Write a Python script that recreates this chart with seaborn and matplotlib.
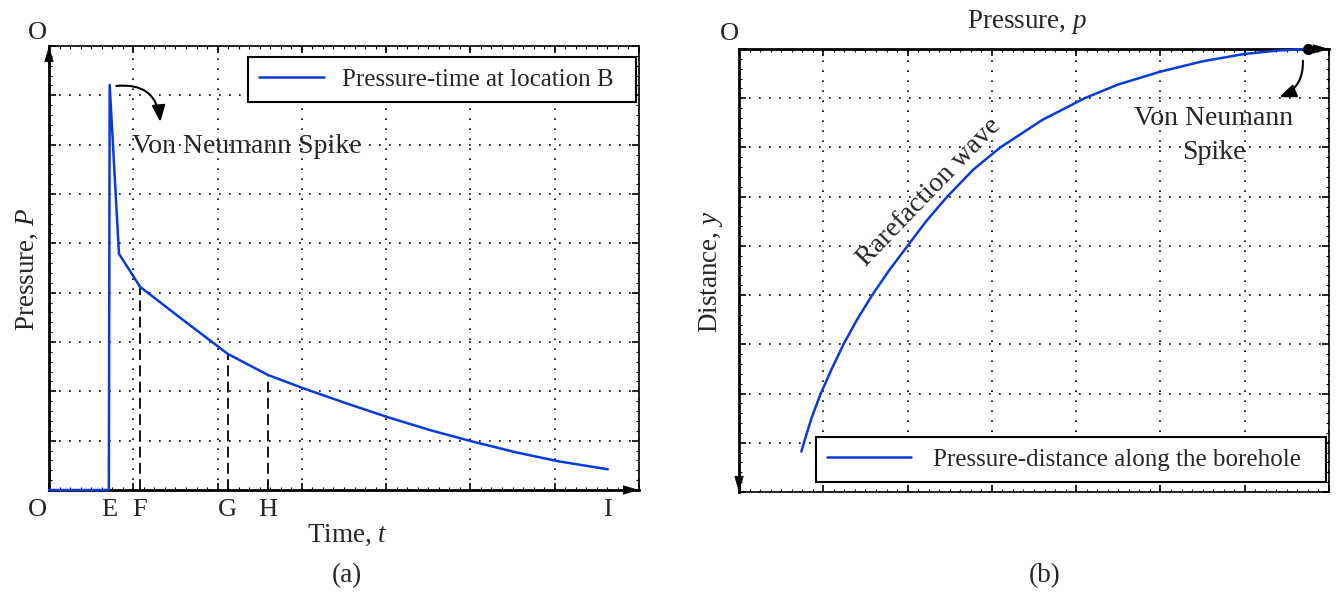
import numpy as np
import pandas as pd
import matplotlib
matplotlib.use("Agg")
import matplotlib.pyplot as plt
import seaborn as sns
from matplotlib.ticker import MultipleLocator

# ---------------- data ----------------
# panel (a): pressure-time history at location B
time_a = [0.00, 0.71, 0.72, 0.83, 1.08, 1.58, 2.12, 2.60, 3.02, 3.54, 4.03, 4.55, 5.03, 5.55, 6.05, 6.63]
pressure_a = [0.00, 0.00, 8.21, 4.79, 4.12, 3.46, 2.76, 2.33, 2.06, 1.75, 1.47, 1.20, 0.98, 0.76, 0.58, 0.42]
event_labels = ["E", "F", "G", "H", "I"]
event_index = [1, 4, 6, 7, 15]          # indices into time_a of the labelled instants
dashed_index = [4, 6, 7]                # F, G, H drop lines

# panel (b): pressure-distance along the borehole
pressure_b = [6.75, 6.40, 6.00, 5.50, 5.00, 4.50, 4.10, 3.60, 3.10, 2.78, 2.47, 2.22,
              2.00, 1.78, 1.58, 1.40, 1.24, 1.10, 0.97, 0.86, 0.77, 0.74]
distance_b = [0.00, 0.03, 0.10, 0.25, 0.46, 0.72, 1.00, 1.44, 2.00, 2.45, 3.00, 3.50,
              4.00, 4.50, 5.00, 5.50, 6.00, 6.50, 7.00, 7.50, 8.00, 8.18]

legend_a = "Pressure-time at location B"
legend_b = "Pressure-distance along the borehole"

# ---------------- style ----------------
sns.set_style("white")
plt.rcParams["font.family"] = ["Liberation Serif", "DejaVu Serif"]
plt.rcParams["mathtext.fontset"] = "custom"
plt.rcParams["mathtext.rm"] = "Liberation Serif"
plt.rcParams["mathtext.it"] = "Liberation Serif:italic"

BLUE = "#0a3ad8"
GRID_LS = (0, (1, 5))
W, H = 1336, 592

fig = plt.figure(figsize=(W / 100, H / 100), dpi=100)
fig.patch.set_facecolor("white")
axa = fig.add_axes([49 / W, 1 - 490 / H, 590 / W, 444 / H])
axb = fig.add_axes([739 / W, 1 - 492 / H, 590 / W, 443 / H])


def style_axes(ax, thick):
    ax.set_xlim(0, 7)
    ax.set_xticks(range(0, 8))
    ax.xaxis.set_minor_locator(MultipleLocator(0.125))
    ax.yaxis.set_minor_locator(MultipleLocator(0.2))
    ax.grid(True, which="major", color="k", linestyle=GRID_LS, linewidth=1.2)
    ax.tick_params(which="both", direction="in", top=True, right=True, bottom=True, left=True,
                   labelbottom=False, labelleft=False, labeltop=False, labelright=False,
                   color="k")
    ax.tick_params(which="major", length=5, width=1.2)
    ax.tick_params(which="minor", length=2.5, width=0.8)
    for side, sp in ax.spines.items():
        sp.set_visible(True)
        sp.set_color("k")
        sp.set_linewidth(2.0 if side in thick else 1.2)
    ax.set_xlabel("")
    ax.set_ylabel("")


def axis_arrow(ax, tip, tail):
    ax.annotate("", xy=tip, xytext=tail, xycoords="axes fraction", textcoords="axes fraction",
                arrowprops=dict(arrowstyle="-|>,head_length=0.58,head_width=0.17", color="k",
                                lw=0.5, shrinkA=0, shrinkB=0, mutation_scale=18),
                annotation_clip=False, zorder=7)


# ---------------- panel (a) ----------------
sns.lineplot(x=time_a, y=pressure_a, ax=axa, color=BLUE, lw=1.8, sort=False,
             estimator=None, label=legend_a, clip_on=False, zorder=5)
axa.set_ylim(0, 9)
axa.set_yticks(range(0, 10))
style_axes(axa, thick=("left", "bottom"))

for i in dashed_index:
    axa.plot([time_a[i], time_a[i]], [0, pressure_a[i]], color="k", lw=1.3,
             linestyle=(0, (6, 3)), zorder=4)

axis_arrow(axa, (0, 1.0), (0, 0.95))
axis_arrow(axa, (1.0, 0), (0.96, 0))

leg = axa.legend(loc="upper left", bbox_to_anchor=(0.3373, 0.8739, 0.6576, 0.1014),
                 mode="expand", frameon=True, fancybox=False, edgecolor="k", framealpha=1,
                 fontsize=18, handlelength=2.6, handletextpad=0.72, borderpad=0.45,
                 borderaxespad=0)
leg.get_frame().set_linewidth(1.5)

axa.annotate("", xy=(1.32, 7.46), xytext=(0.80, 8.19),
             arrowprops=dict(arrowstyle="-|>,head_length=1.0,head_width=0.4", color="k",
                             lw=1.5, connectionstyle="arc3,rad=-0.5", shrinkA=0, shrinkB=0,
                             mutation_scale=10))
axa.text(0.98, 6.96, "Von Neumann Spike", fontsize=20, ha="left", va="center")

xa_tr = axa.get_xaxis_transform()
axa.text(-0.14, -0.045, "O", transform=xa_tr, fontsize=19, ha="center", va="center")
for lab, i in zip(event_labels, event_index):
    axa.text(time_a[i], -0.045, lab, transform=xa_tr, fontsize=19, ha="center", va="center")
axa.text(-0.019, 1.029, "O", transform=axa.transAxes, fontsize=19, ha="center", va="center")

fig.text(347 / W, 1 - 535 / H, "Time, $t$", fontsize=19.5, ha="center", va="center")
fig.text(27 / W, 1 - 269 / H, "Pressure, $P$", fontsize=19.5, ha="center", va="center",
         rotation=90)
fig.text(347 / W, 1 - 576 / H, "(a)", fontsize=19.5, ha="center", va="center")

# ---------------- panel (b) ----------------
sns.lineplot(x=pressure_b, y=distance_b, ax=axb, color=BLUE, lw=1.8, sort=False,
             estimator=None, label=legend_b, clip_on=False, zorder=5)
axb.set_ylim(9, 0)
axb.set_yticks(range(0, 10))
style_axes(axb, thick=("left", "top"))
axb.plot([pressure_b[0]], [distance_b[0]], marker="o", ms=7, color="k", clip_on=False, zorder=6)

axis_arrow(axb, (1.0, 1.0), (0.96, 1.0))
axis_arrow(axb, (0, 0.0), (0, 0.05))

legb = axb.legend(loc="lower left", bbox_to_anchor=(0.1305, 0.0226, 0.8644, 0.1016),
                  mode="expand", frameon=True, fancybox=False, edgecolor="k", framealpha=1,
                  fontsize=18, handlelength=3.34, handletextpad=0.88, borderpad=0.45,
                  borderaxespad=0)
legb.get_frame().set_linewidth(1.5)

axb.annotate("", xy=(6.41, 0.98), xytext=(6.69, 0.24),
             arrowprops=dict(arrowstyle="-|>,head_length=1.0,head_width=0.4", color="k",
                             lw=1.5, connectionstyle="arc3,rad=-0.35", shrinkA=0, shrinkB=0,
                             mutation_scale=10))
axb.text(5.63, 1.76, "Von Neumann\nSpike", fontsize=20, ha="center", va="center",
         multialignment="center", linespacing=1.45)
axb.text(2.25, 2.91, "Rarefaction wave", fontsize=20, ha="center", va="center",
         rotation=46, rotation_mode="anchor")

axb.text(-0.017, 1.034, "O", transform=axb.transAxes, fontsize=19, ha="center", va="center")
fig.text(1027 / W, 1 - 22 / H, "Pressure, $p$", fontsize=19.5, ha="center", va="center")
fig.text(711 / W, 1 - 272 / H, "Distance, $y$", fontsize=19.5, ha="center", va="center",
         rotation=90)
fig.text(1045 / W, 1 - 576 / H, "(b)", fontsize=19.5, ha="center", va="center")

fig.savefig("out.png", dpi=100, facecolor="white")
